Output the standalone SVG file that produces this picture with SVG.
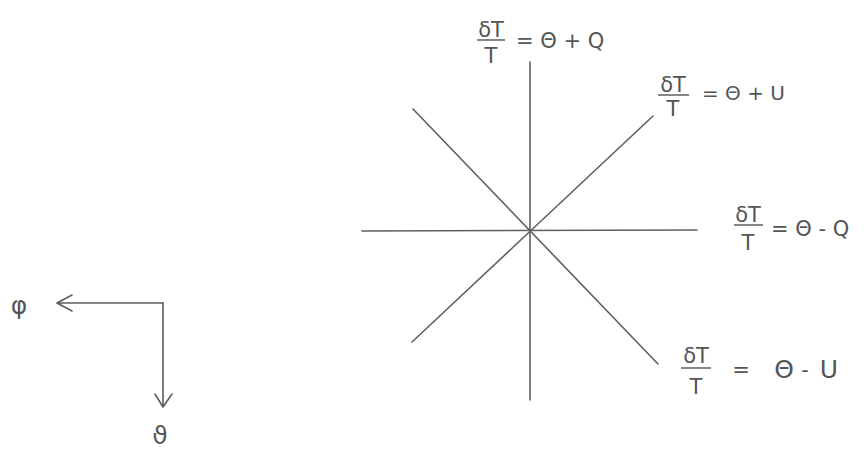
<svg xmlns="http://www.w3.org/2000/svg" width="864" height="451" viewBox="0 0 864 451">
<defs>
<style>
.ln{stroke:#5f5f5f;stroke-width:1.6;fill:none;stroke-linecap:round;stroke-linejoin:round}
.tx{font-family:"DejaVu Sans","Liberation Sans",sans-serif;fill:#555;}
.fr{font-size:21px;text-anchor:middle}
.eq{font-size:21px}
.bar{stroke:#5f5f5f;stroke-width:1.5}
</style>
</defs>
<rect width="864" height="451" fill="#ffffff"/>
<g id="connectors">
<line class="ln" x1="530" y1="62" x2="530" y2="400"/>
<line class="ln" x1="362" y1="231" x2="697" y2="230"/>
<line class="ln" x1="413" y1="109" x2="658" y2="364"/>
<line class="ln" x1="412" y1="342" x2="653" y2="116"/>
<path class="ln" d="M163,303 L57,303 M72,295 L57,303 L72,311"/>
<path class="ln" d="M163,303 L163,407 M155,394 L163,407 L172,394"/>
</g>
<g id="label-top">
<text class="tx fr" x="491" y="37">δT</text>
<line class="bar" x1="477" y1="40" x2="505" y2="40"/>
<text class="tx fr" x="491" y="63">T</text>
<text class="tx eq" x="516" y="48">= Θ + Q</text>
</g>
<g id="label-ne">
<text class="tx fr" x="673" y="92">δT</text>
<line class="bar" x1="658" y1="95" x2="689" y2="95"/>
<text class="tx fr" x="673" y="116">T</text>
<text class="tx eq" x="702" y="100" style="font-size:20px">= Θ + U</text>
</g>
<g id="label-e">
<text class="tx fr" x="748" y="222">δT</text>
<line class="bar" x1="734" y1="225" x2="763" y2="225"/>
<text class="tx fr" x="748" y="250">T</text>
<text class="tx eq" x="771" y="236">= Θ - Q</text>
</g>
<g id="label-se">
<text class="tx fr" x="696" y="363">δT</text>
<line class="bar" x1="681" y1="368" x2="711" y2="368"/>
<text class="tx fr" x="696" y="394">T</text>
<text class="tx eq" x="741" y="377" text-anchor="middle">=</text>
<text class="tx eq" x="784" y="378" text-anchor="middle" style="font-size:25px">Θ</text>
<text class="tx eq" x="805" y="377" text-anchor="middle">-</text>
<text class="tx eq" x="829" y="378" text-anchor="middle" style="font-size:25px">U</text>
</g>
<g id="label-phi">
<text class="tx" x="19" y="314" text-anchor="middle" style="font-size:25px">φ</text>
</g>
<g id="label-theta">
<text class="tx" x="160" y="444" text-anchor="middle" style="font-size:25px">ϑ</text>
</g>
</svg>
